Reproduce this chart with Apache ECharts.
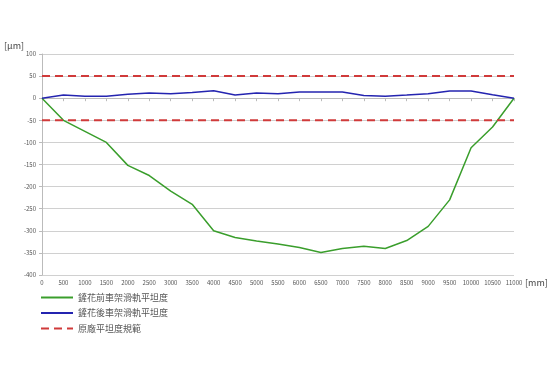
<!DOCTYPE html>
<html><head><meta charset="utf-8">
<script src="https://cdn.jsdelivr.net/npm/echarts@6/dist/echarts.min.js"></script>
<style>html,body{margin:0;padding:0;background:#fff}#c{width:550px;height:379px}</style>
</head><body><div id="c"></div>
<script>
const xPos = [0,500,1000,1500,2000,2500,3000,3500,4000,4500,5000,5500,6000,6500,7000,7500,8000,8500,9000,9500,10000,10500,11000];
const before = [0,-50,-75,-100,-152,-175,-210,-240,-300,-315,-323,-330,-338,-349,-340,-335,-340,-322,-290,-230,-112,-65,0];
const after = [0,7,4.5,4.5,9,12,10,13,17,7,12,10,14,14,14,6,4.5,7,10,16.5,16.5,8,0];
const specUpper = 50, specLower = -50;
const names = ['鏟花前車架滑軌平坦度','鏟花後車架滑軌平坦度','原廠平坦度規範'];
const font = '"Noto Sans CJK TC", "Noto Sans", sans-serif';
const chart = echarts.init(document.getElementById('c'));
const pairs = a => xPos.map((x,i)=>[x,a[i]]);
chart.setOption({
  animation:false,
  textStyle:{fontFamily:font},
  grid:{left:42,right:36,top:54,bottom:104,containLabel:false},
  legend:{orient:'vertical',left:40,top:293,padding:0,itemGap:6.5,itemWidth:32,itemHeight:10,
    itemStyle:{color:'transparent',borderWidth:0,opacity:0},
    data:names,textStyle:{fontSize:9,color:'#555',fontFamily:font}},
  graphic:[
    {type:'text',left:4,top:41,style:{text:'[μm]',fontSize:9,fill:'#444',fontFamily:font}},
    {type:'text',left:525,top:278,style:{text:'[mm]',fontSize:9,fill:'#444',fontFamily:font}}
  ],
  xAxis:{type:'value',min:0,max:11000,interval:500,
    axisLine:{lineStyle:{color:'#bbb'}},axisTick:{show:true,length:3,lineStyle:{color:'#bbb'}},
    splitLine:{show:false},axisLabel:{fontSize:6,color:'#555',margin:5,formatter:v=>String(v)}},
  yAxis:{type:'value',min:-400,max:100,interval:50,
    axisLine:{show:true,lineStyle:{color:'#bbb'}},axisTick:{show:true,length:3,lineStyle:{color:'#bbb'}},
    splitLine:{lineStyle:{color:'#d0d0d0'}},axisLabel:{fontSize:6,color:'#555',margin:6,formatter:v=>String(v)}},
  series:[
    {name:names[0],type:'line',data:pairs(before),symbol:'none',lineStyle:{color:'#3a9e2c',width:1.5},itemStyle:{color:'#3a9e2c'}},
    {name:names[1],type:'line',data:pairs(after),symbol:'none',lineStyle:{color:'#2424b0',width:1.5},itemStyle:{color:'#2424b0'}},
    {name:names[2],type:'line',data:[[0,specUpper],[11000,specUpper]],symbol:'none',lineStyle:{color:'#d03a3a',width:2,type:[8,5]},itemStyle:{color:'#d03a3a'}},
    {name:names[2],type:'line',data:[[0,specLower],[11000,specLower]],symbol:'none',lineStyle:{color:'#d03a3a',width:2,type:[8,5]},itemStyle:{color:'#d03a3a'}}
  ]
});
</script></body></html>
